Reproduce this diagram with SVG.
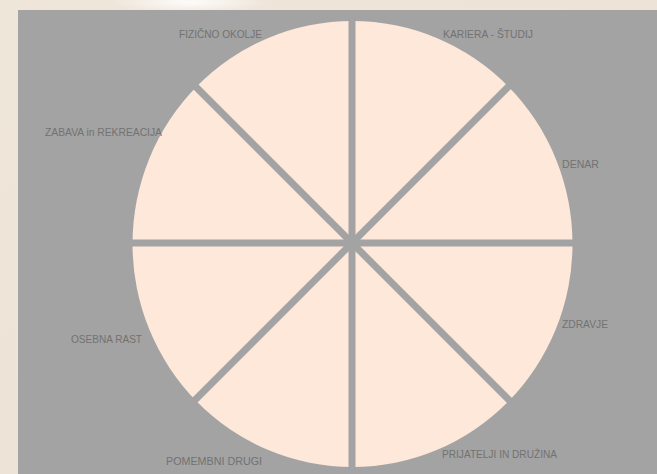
<svg xmlns="http://www.w3.org/2000/svg" width="657" height="474" viewBox="0 0 657 474">
<defs>
<linearGradient id="bg" x1="0" y1="0" x2="1" y2="1">
<stop offset="0" stop-color="#efe6da"/>
<stop offset="0.5" stop-color="#ede3d6"/>
<stop offset="1" stop-color="#e3d2bf"/>
</linearGradient>
<radialGradient id="glow" cx="0.5" cy="0.5" r="0.5">
<stop offset="0" stop-color="#ffffff" stop-opacity="0.9"/>
<stop offset="1" stop-color="#ffffff" stop-opacity="0"/>
</radialGradient>
<style>
.lbl{font-family:"Liberation Sans Narrow","Liberation Sans",Arial,sans-serif;font-size:11px;fill:#727272;}
.sp{stroke:#a3a3a3;stroke-width:7;stroke-linecap:butt;}
</style>
</defs>
<rect width="657" height="474" fill="url(#bg)"/>
<ellipse cx="190" cy="2" rx="80" ry="12" fill="url(#glow)"/>
<rect x="18" y="10" width="639" height="464" fill="#a3a3a3"/>
<g id="wheel">
<ellipse cx="352.5" cy="244" rx="220" ry="223" fill="#fde8da"/>
</g>
<g id="connectors">
<line class="sp" x1="352" y1="18" x2="352" y2="470"/>
<line class="sp" x1="128" y1="243" x2="576" y2="243"/>
<line class="sp" x1="194" y1="85" x2="510" y2="401"/>
<line class="sp" x1="510" y1="85" x2="194" y2="401"/>
</g>
<g id="n-fizicno"><text class="lbl" x="179" y="37.5" textLength="83" lengthAdjust="spacingAndGlyphs">FIZIČNO OKOLJE</text></g>
<g id="n-kariera"><text class="lbl" x="443" y="37.5" textLength="90" lengthAdjust="spacingAndGlyphs">KARIERA - ŠTUDIJ</text></g>
<g id="n-zabava"><text class="lbl" x="45" y="135.5" textLength="117" lengthAdjust="spacingAndGlyphs">ZABAVA in REKREACIJA</text></g>
<g id="n-denar"><text class="lbl" x="562" y="168" textLength="37" lengthAdjust="spacingAndGlyphs">DENAR</text></g>
<g id="n-osebna"><text class="lbl" x="71" y="342.5" textLength="71" lengthAdjust="spacingAndGlyphs">OSEBNA RAST</text></g>
<g id="n-zdravje"><text class="lbl" x="562" y="327.5" textLength="46" lengthAdjust="spacingAndGlyphs">ZDRAVJE</text></g>
<g id="n-pomembni"><text class="lbl" x="166" y="464.5" textLength="96" lengthAdjust="spacingAndGlyphs">POMEMBNI DRUGI</text></g>
<g id="n-prijatelji"><text class="lbl" x="442" y="457.5" textLength="115" lengthAdjust="spacingAndGlyphs">PRIJATELJI IN DRUŽINA</text></g>
</svg>
